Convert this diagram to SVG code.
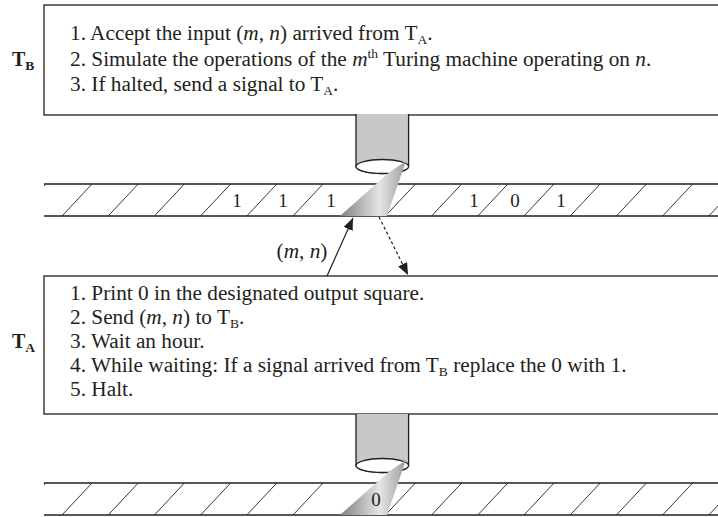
<svg xmlns="http://www.w3.org/2000/svg" width="718" height="517" viewBox="0 0 718 517">
<style>
.box{fill:#fff;stroke:#231f20;stroke-width:1.3}
.t{font-family:"Liberation Serif","Times New Roman",serif;font-size:21.3px;fill:#231f20}
.i{font-style:italic}
.sub{font-size:13.5px}
.lbl{font-family:"Liberation Serif","Times New Roman",serif;font-size:20px;font-weight:bold;fill:#231f20}
.tape{stroke:#231f20;stroke-width:1.3;fill:none}
.hatch{stroke:#231f20;stroke-width:0.9;fill:none}
.cyl{fill:#c7c8ca;stroke:#231f20;stroke-width:1.3}
.end{fill:#fff;stroke:#231f20;stroke-width:1.3}
.num{font-family:"Liberation Serif","Times New Roman",serif;font-size:19px;fill:#231f20;text-anchor:middle}
.con{stroke:#231f20;stroke-width:1.2;fill:none}
</style>
<defs>
<linearGradient id="beam" x1="0" y1="0" x2="1" y2="0">
<stop offset="0" stop-color="#7e7f81"/>
<stop offset="0.6" stop-color="#e4e5e6"/>
<stop offset="1" stop-color="#9c9d9f"/>
</linearGradient>
<clipPath id="tc"><rect x="44" y="0" width="674" height="517"/></clipPath>
<marker id="ah" viewBox="0 0 12 10" refX="12" refY="5" markerWidth="12" markerHeight="10" markerUnits="userSpaceOnUse" orient="auto">
<path d="M0,0 L12,5 L0,10 z" fill="#231f20"/>
</marker>
<g id="hatchrow">
<path class="hatch" d="M15.8,32 L45.8,0 M62,32 L92,0 M108.2,32 L138.2,0 M154.4,32 L184.4,0 M200.6,32 L230.6,0 M246.8,32 L276.8,0 M293,32 L323,0 M385.4,32 L415.4,0 M431.6,32 L461.6,0 M477.8,32 L507.8,0 M524,32 L554,0 M570.2,32 L600.2,0 M616.4,32 L646.4,0 M662.6,32 L692.6,0 M708.8,32 L738.8,0"/>
</g>
</defs>

<g id="TB">
<rect class="box" x="44" y="5" width="690" height="110"/>
<text class="lbl" x="12" y="66">T<tspan class="sub" dy="3.5">B</tspan></text>
<text class="t" x="70" y="40">1. Accept the input (<tspan class="i">m</tspan>, <tspan class="i">n</tspan>) arrived from T<tspan class="sub" dy="3.5">A</tspan><tspan dy="-3.5">.</tspan></text>
<text class="t" x="70" y="66">2. Simulate the operations of the <tspan class="i">m</tspan><tspan class="sub" dy="-8">th</tspan><tspan dy="8"> Turing machine operating on </tspan><tspan class="i">n</tspan>.</text>
<text class="t" x="70" y="91">3. If halted, send a signal to T<tspan class="sub" dy="3.5">A</tspan><tspan dy="-3.5">.</tspan></text>
</g>

<g id="tape1">
<g clip-path="url(#tc)"><use href="#hatchrow" transform="translate(0,184)"/></g>
<path class="tape" d="M44,184 H718 M44,216 H718"/>
<text class="num" x="237" y="207">1</text>
<text class="num" x="283" y="207">1</text>
<text class="num" x="331" y="207">1</text>
<text class="num" x="474" y="207">1</text>
<text class="num" x="515" y="207">0</text>
<text class="num" x="561" y="207">1</text>
</g>

<g id="headB">
<path class="cyl" d="M356,114 V166.5 A26.3,7 0 0 0 408.6,166.5 V114"/>
<ellipse class="end" cx="382.3" cy="166.5" rx="26.3" ry="7"/>
<polygon points="340,216 387,216 406,161 389,172.5" fill="url(#beam)"/>
</g>

<g id="TA">
<rect class="box" x="44" y="276" width="690" height="138"/>
<text class="lbl" x="12" y="348">T<tspan class="sub" dy="3.5">A</tspan></text>
<text class="t" x="70" y="300">1. Print 0 in the designated output square.</text>
<text class="t" x="70" y="324">2. Send (<tspan class="i">m</tspan>, <tspan class="i">n</tspan>) to T<tspan class="sub" dy="3.5">B</tspan><tspan dy="-3.5">.</tspan></text>
<text class="t" x="70" y="348">3. Wait an hour.</text>
<text class="t" x="70" y="372">4. While waiting: If a signal arrived from T<tspan class="sub" dy="3.5">B</tspan><tspan dy="-3.5"> replace the 0 with 1.</tspan></text>
<text class="t" x="70" y="396">5. Halt.</text>
</g>

<g id="tape2">
<g clip-path="url(#tc)"><use href="#hatchrow" transform="translate(0,483)"/></g>
<path class="tape" d="M44,483 H718 M44,515 H718"/>
</g>

<g id="headA">
<path class="cyl" d="M356,414 V465.5 A26.3,7 0 0 0 408.6,465.5 V414"/>
<ellipse class="end" cx="382.3" cy="465.5" rx="26.3" ry="7"/>
<polygon points="340,515 387,515 406,460 389,471.5" fill="url(#beam)"/>
<text class="num" x="376" y="506">0</text>
</g>

<g id="connectors">
<line class="con" x1="327" y1="276" x2="353" y2="218" marker-end="url(#ah)"/>
<line class="con" x1="379" y1="217" x2="408" y2="275" stroke-dasharray="3,2.5" marker-end="url(#ah)"/>
<text class="t" x="302" y="258" text-anchor="middle">(<tspan class="i">m</tspan>, <tspan class="i">n</tspan>)</text>
</g>
</svg>
